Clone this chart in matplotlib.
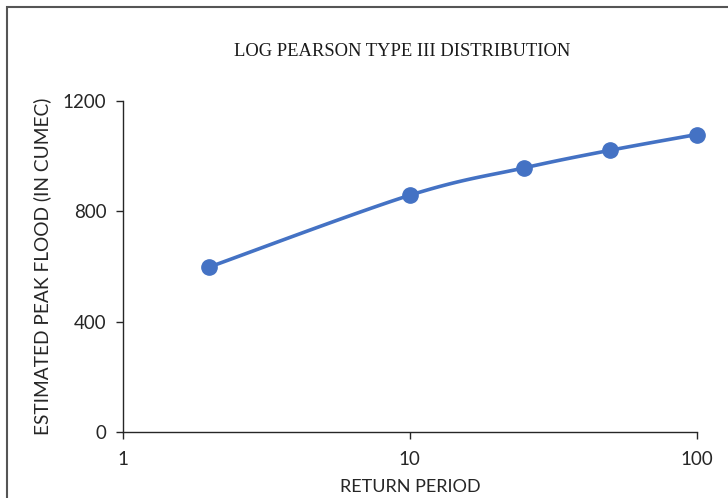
import numpy as np
import matplotlib.pyplot as plt
from matplotlib.patches import Rectangle

return_period = [2, 10, 25, 50, 100]
peak_flood = [598, 858, 957, 1021, 1078]


def excel_smooth(xs, ys, n=30):
    # Catmull-Rom style bezier like Excel's smoothed line
    px = np.log10(np.array(xs, dtype=float))
    py = np.array(ys, dtype=float)
    out_x, out_y = [], []
    for i in range(len(px) - 1):
        p0 = (px[i - 1], py[i - 1]) if i > 0 else (px[i], py[i])
        p1 = (px[i], py[i])
        p2 = (px[i + 1], py[i + 1])
        p3 = (px[i + 2], py[i + 2]) if i + 2 < len(px) else (px[i + 1], py[i + 1])
        c1 = (p1[0] + (p2[0] - p0[0]) / 6, p1[1] + (p2[1] - p0[1]) / 6)
        c2 = (p2[0] - (p3[0] - p1[0]) / 6, p2[1] - (p3[1] - p1[1]) / 6)
        t = np.linspace(0, 1, n)
        bx = (1 - t)**3 * p1[0] + 3 * (1 - t)**2 * t * c1[0] + 3 * (1 - t) * t**2 * c2[0] + t**3 * p2[0]
        by = (1 - t)**3 * p1[1] + 3 * (1 - t)**2 * t * c1[1] + 3 * (1 - t) * t**2 * c2[1] + t**3 * p2[1]
        out_x.extend(bx)
        out_y.extend(by)
    return 10 ** np.array(out_x), np.array(out_y)


sans = 'Lato'
grey = '#262626'

fig = plt.figure(figsize=(7.28, 4.98), dpi=100)
ax = fig.add_axes([0.169, 0.1325, 0.788, 0.665])

sx, sy = excel_smooth(return_period, peak_flood)
ax.plot(sx, sy, color='#4472C4', linewidth=2.6, solid_capstyle='round', clip_on=False)
ax.plot(return_period, peak_flood, 'o', color='#4472C4', markersize=11, clip_on=False)

ax.set_xscale('log')
ax.set_xlim(1, 100)
ax.set_ylim(0, 1200)
ax.set_yticks([0, 400, 800, 1200])
ax.set_xticks([1, 10, 100])
ax.set_xticklabels(['1', '10', '100'])
ax.minorticks_off()

for s in ['top', 'right']:
    ax.spines[s].set_visible(False)
for s in ['left', 'bottom']:
    ax.spines[s].set_color(grey)
    ax.spines[s].set_linewidth(1.0)
ax.tick_params(direction='out', length=5, width=1.0, color=grey,
               labelsize=13.5, labelcolor=grey)
ax.tick_params(axis='y', pad=7)
ax.tick_params(axis='x', pad=9)
for lab in ax.get_xticklabels() + ax.get_yticklabels():
    lab.set_family(sans)

fig.text(410 / 728, 1 - 487 / 498, 'RETURN PERIOD', ha='center', va='center',
         fontsize=13, family=sans, color=grey)
fig.text(42 / 728, 1 - 266 / 498, 'ESTIMATED PEAK FLOOD (IN CUMEC)', ha='center', va='center',
         rotation=90, fontsize=13.8, family=sans, color=grey)

fig.text(0.553, 0.896, 'LOG PEARSON TYPE III DISTRIBUTION', ha='center', va='center',
         fontsize=13.4, family='Liberation Serif', color='#1a1a1a')

fig.patches.append(Rectangle((7 / 728, -0.1), 1.2, 1 - 7 / 498 + 0.1, transform=fig.transFigure,
                             fill=False, edgecolor='#555555', linewidth=1.5))

fig.savefig('out.png', dpi=100)
